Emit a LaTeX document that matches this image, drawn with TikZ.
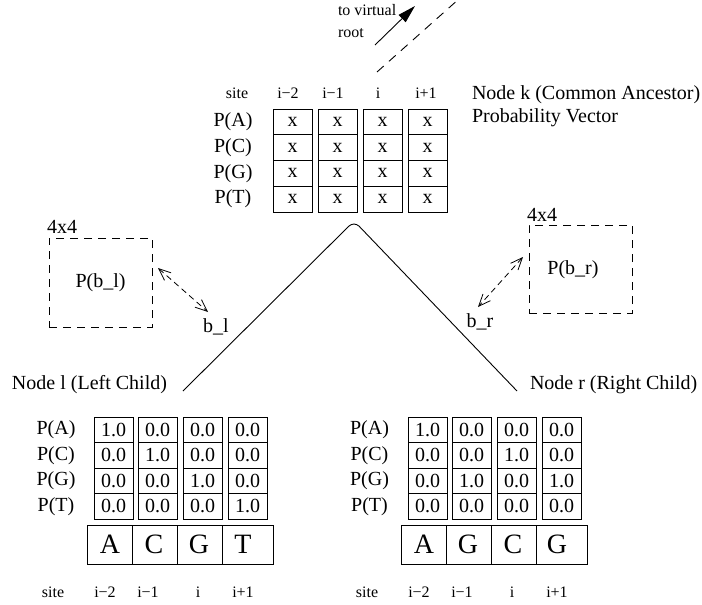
\documentclass[tikz,border=0pt]{standalone}
\usepackage{fontspec}
\setmainfont{Liberation Serif}
\usetikzlibrary{arrows.meta}
\begin{document}
\begin{tikzpicture}[x=1pt,y=-1pt,
  every node/.style={inner sep=0pt, outer sep=0pt},
  big/.style={font=\fontsize{20}{23}\selectfont},
  small/.style={font=\fontsize{16}{22}\selectfont},
  cell/.style={draw, line width=0.9pt, minimum width=39pt, minimum height=25.5pt, font=\fontsize{20}{23}\selectfont},
  seqcell/.style={draw, line width=0.9pt, minimum height=39pt},
  seqletter/.style={font=\fontsize{28}{30}\selectfont},
  dbox/.style={draw, dash pattern=on 8pt off 6pt, line width=0.9pt, minimum width=103pt},
  conn/.style={line width=0.9pt},
  barb/.style={line width=0.8pt, dash pattern=on 6pt off 4pt, {Straight Barb[length=12pt,width=10pt]}-{Straight Barb[length=12pt,width=10pt]}}
]
\useasboundingbox (0,0) rectangle (702,605);

% ---------- virtual root ----------
\node[small, align=left, anchor=west] (vroot) at (338,21) {to virtual\\root};
\coordinate (va) at (375,45);
\coordinate (vb) at (415,6);
\draw[conn, -{Triangle[length=18pt,width=10pt]}] (va) -- (vb);
\coordinate (da) at (377,72);
\coordinate (db) at (460,-2);
\draw[conn, dash pattern=on 9pt off 7pt] (da) -- (db);

% ---------- top table (node k) ----------
\node[small] (ks0) at (237,93) {site};
\foreach \n/\x in {1/288,2/333,3/378,4/426}{
  \node[small] (ks\n) at (\x,93) {\ifcase\n\or i−2\or i−1\or i\or i+1\fi};
}
\foreach \r/\y/\l in {1/121.9/A,2/147.6/C,3/173.4/G,4/199.1/T}{
  \node[big] (kl\r) at (233,\y) {P(\l)};
  \foreach \c/\x in {1/292.5,2/337.5,3/382.5,4/427.5}{
    \node[cell, minimum height=25.75pt] (k-\c-\r) at (\x,\y) {x};
  }
}
\node[big, align=left, anchor=west] (ktext) at (472,106.5) {Node k (Common Ancestor)\\Probability Vector};

% ---------- tree ----------
\coordinate (apexL) at (351,224);
\coordinate (apexR) at (357,224);
\coordinate (lend) at (183,391);
\coordinate (rend) at (517,391);
\draw[conn, rounded corners=3pt] (lend) -- (apexL) -- (apexR) -- (rend);

\node[big, anchor=west] (nodel) at (12,385) {Node l (Left Child)};
\node[big, anchor=west] (noder) at (530,385) {Node r (Right Child)};

% ---------- branch matrices ----------
\node[dbox, minimum height=89pt] (pbl) at (100.5,282.5) {};
\node[big] at (pbl.center) {P(b\_l)};
\node[big, anchor=south west] (fl) at (47,233) {4x4};
\node[big] (bl) at (216,327) {b\_l};
\coordinate (bla) at (158,268);
\coordinate (blb) at (208,312);
\draw[barb] (bla) -- (blb);

\node[dbox, minimum height=88pt] (pbr) at (580.5,269) {};
\node[big] at (573,270) {P(b\_r)};
\node[big, anchor=south west] (fr) at (527,221) {4x4};
\node[big] (br) at (480,322) {b\_r};
\coordinate (bra) at (523,257);
\coordinate (brb) at (478,307);
\draw[barb] (bra) -- (brb);

% ---------- left child table ----------
\foreach \r/\y/\l in {1/429.75/A,2/455.25/C,3/480.75/G,4/506.25/T}{
  \node[big] (ll\r) at (56,\y) {P(\l)};
  \foreach \c/\x/\one in {1/113.5/1,2/157.5/2,3/202.5/3,4/247.5/4}{
    \node[cell] (l-\c-\r) at (\x,\y) {\ifnum\r=\one\relax 1.0\else 0.0\fi};
  }
}
\foreach \c/\x/\w/\lx/\lt in {1/109.5/45/110/A,2/154.5/45/154/C,3/199.5/45/199/G,4/247.5/51/243/T}{
  \node[seqcell, minimum width=\w pt] (ls\c) at (\x,544.5) {};
  \node[seqletter] (lt\c) at (\lx,544.5) {\lt};
}
\node[small] (lsite0) at (53,592) {site};
\foreach \n/\x in {1/105,2/148,3/198,4/243}{
  \node[small] (lsite\n) at (\x,592) {\ifcase\n\or i−2\or i−1\or i\or i+1\fi};
}

% ---------- right child table ----------
\foreach \r/\y/\l in {1/429.75/A,2/455.25/C,3/480.75/G,4/506.25/T}{
  \node[big] (rl\r) at (369.5,\y) {P(\l)};
  \foreach \c/\x/\one in {1/427.5/1,2/471.5/3,3/516.5/2,4/561.5/3}{
    \node[cell] (r-\c-\r) at (\x,\y) {\ifnum\r=\one\relax 1.0\else 0.0\fi};
  }
}
\foreach \c/\x/\w/\lx/\lt in {1/423.5/45/424/A,2/468.5/45/468/G,3/513.5/45/513/C,4/561.5/51/557/G}{
  \node[seqcell, minimum width=\w pt] (rs\c) at (\x,544.5) {};
  \node[seqletter] (rt\c) at (\lx,544.5) {\lt};
}
\node[small] (rsite0) at (367,592) {site};
\foreach \n/\x in {1/419,2/462,3/512,4/557}{
  \node[small] (rsite\n) at (\x,592) {\ifcase\n\or i−2\or i−1\or i\or i+1\fi};
}
\end{tikzpicture}
\end{document}
